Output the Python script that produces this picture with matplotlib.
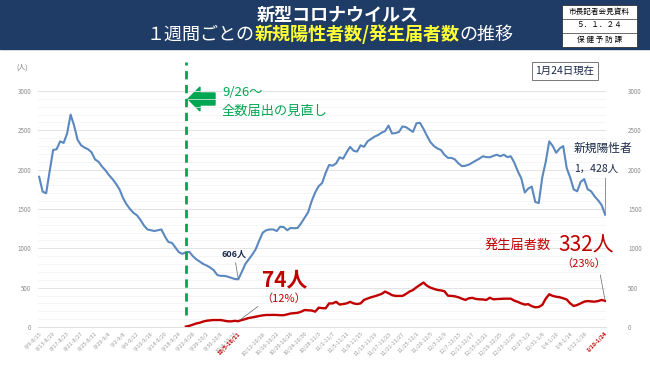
import numpy as np
import pandas as pd
import matplotlib
matplotlib.use("Agg")
import matplotlib.pyplot as plt
from matplotlib.patches import Rectangle, Polygon
from matplotlib.offsetbox import TextArea, HPacker, AnchoredOffsetbox

plt.rcParams['font.family'] = ['Noto Sans CJK JP', 'DejaVu Sans']

# --- data (weekly rolling totals, window end date 2022-08-15 .. 2023-01-24)
start_day = "2022-08-15"

new_cases = [
    1910, 1720, 1700, 1980, 2250, 2260, 2360, 2340, 2460, 2700,
    2560, 2380, 2310, 2280, 2260, 2220, 2130, 2100, 2040, 1990,
    1930, 1880, 1820, 1750, 1640, 1560, 1500, 1450, 1420, 1360,
    1290, 1240, 1230, 1220, 1230, 1240, 1150, 1080, 1070, 1010,
    950, 930, 950, 955, 900, 860, 830, 800, 780, 755,
    720, 660, 650, 650, 640, 625, 610, 606, 700, 800,
    860, 920, 990, 1100, 1200, 1230, 1240, 1240, 1220, 1275,
    1270, 1230, 1260, 1255, 1260, 1320, 1390, 1460, 1600, 1710,
    1790, 1830, 1960, 2060, 2050, 2080, 2157, 2140, 2220, 2290,
    2240, 2230, 2310, 2290, 2360, 2390, 2420, 2440, 2470, 2490,
    2560, 2460, 2465, 2480, 2550, 2540, 2510, 2480, 2590, 2595,
    2520, 2430, 2350, 2300, 2270, 2250, 2190, 2150, 2150, 2130,
    2080, 2045, 2050, 2064, 2090, 2115, 2140, 2170, 2160, 2157,
    2175, 2190, 2170, 2190, 2160, 2170, 2090, 1980, 1890, 1710,
    1760, 1785, 1590, 1575, 1900, 2100, 2360, 2300, 2215, 2270,
    2300, 2020, 1900, 1750, 1725, 1845, 1880, 1750, 1725, 1660,
    1610, 1550, 1428,
]

# 発生届 (from 9/26 onwards)
report_start = "2022-09-26"
reports = [
    5, 15, 30, 45, 55, 70, 80, 85, 89, 88,
    89, 80, 72, 72, 78, 74, 89, 100, 115, 122,
    131, 140, 148, 153, 153, 154, 153, 150, 150, 160,
    172, 176, 180, 195, 216, 212, 210, 195, 245, 240,
    238, 300, 300, 320, 285, 292, 300, 320, 300, 292,
    300, 345, 362, 378, 390, 405, 420, 450, 430, 405,
    395, 395, 395, 420, 450, 470, 505, 535, 565, 525,
    500, 485, 471, 465, 455, 398, 395, 390, 378, 360,
    344, 365, 370, 357, 352, 350, 344, 372, 352, 355,
    357, 360, 360, 360, 335, 320, 300, 285, 290, 265,
    250, 255, 280, 360, 416, 395, 385, 378, 365, 350,
    300, 267, 280, 300, 322, 330, 325, 322, 330, 344,
    332,
]

tick_labels = [
    "8/9-8/15", "8/13-8/19", "8/17-8/23", "8/21-8/27", "8/25-8/31",
    "8/29-9/4", "9/2-9/8", "9/6-9/12", "9/10-9/16", "9/14-9/20",
    "9/18-9/24", "9/22-9/28", "9/26-10/2", "9/30-10/6", "10/4-10/10",
    "10/5-10/11", "10/12-10/18", "10/16-10/22", "10/20-10/26", "10/24-10/30",
    "10/28-11/3", "11/1-11/7", "11/5-11/11", "11/9-11/15", "11/13-11/19",
    "11/17-11/23", "11/21-11/27", "11/25-12/1", "11/29-12/5", "12/3-12/9",
    "12/7-12/13", "12/11-12/17", "12/15-12/21", "12/19-12/25", "12/23-12/29",
    "12/27-1/2", "12/31-1/6", "1/4-1/10", "1/8-1/14", "1/12-1/18",
    "1/18-1/24",
]
red_ticks = ["10/5-10/11", "1/18-1/24"]

days = pd.date_range(start_day, periods=len(new_cases))
rdays = pd.date_range(report_start, periods=len(reports))


def tick_date(lbl):
    m, d = lbl.split("-")[1].split("/")
    year = 2023 if int(m) < 8 else 2022
    return pd.Timestamp(year, int(m), int(d))


tick_pos = [tick_date(t) for t in tick_labels]

W, H = 650, 365
fig = plt.figure(figsize=(6.5, 3.65), dpi=100)
fig.patch.set_facecolor("white")

navy = "#1f3c66"
blue = "#5b88bf"
red = "#c00000"
green = "#00a651"
ink = "#1a2a48"

# header band
fig.patches.append(Rectangle((0, 1 - 49 / H), 1, 49 / H, transform=fig.transFigure,
                             color=navy, zorder=0))
fig.text(338 / W, 1 - 15 / H, "新型コロナウイルス", color="white", fontsize=13,
         ha="center", va="center", fontweight="bold")
parts = [("１週間ごとの", "white", "normal"), ("新規陽性者数/発生届者数", "#ffff33", "bold"),
         ("の推移", "white", "normal")]
pack = HPacker(children=[TextArea(s, textprops=dict(color=c, fontsize=13, fontweight=w))
                         for s, c, w in parts], sep=0, pad=0, align="baseline")
fig.add_artist(AnchoredOffsetbox(loc="center", child=pack, frameon=False, pad=0, borderpad=0,
                                 bbox_to_anchor=(330 / W, 1 - 34 / H),
                                 bbox_transform=fig.transFigure))

# small box on the right of the header
bx0, bx1, by0, by1 = 562 / W, 637 / W, 1 - 47 / H, 1 - 5 / H
fig.patches.append(Rectangle((bx0, by0), bx1 - bx0, by1 - by0, transform=fig.transFigure,
                             facecolor="white", edgecolor="#333333", lw=0.6, zorder=1))
rh = (by1 - by0) / 3
for k in (1, 2):
    fig.add_artist(plt.Line2D([bx0, bx1], [by0 + k * rh] * 2, transform=fig.transFigure,
                              color="#333333", lw=0.5))
for k, s in enumerate(["市長記者会見資料", "５．１．２４", "保 健 予 防 課"]):
    fig.text((bx0 + bx1) / 2, by1 - (k + 0.5) * rh, s, fontsize=5.5, ha="center",
             va="center", color="black")

# main axes
ax = fig.add_axes([38 / W, 1 - 327 / H, (606 - 38) / W, (327 - 91) / H])
ax.plot(days, new_cases, color=blue, lw=1.5, zorder=3)
ax.plot(rdays, reports, color=red, lw=1.7, zorder=3)
ax.set_ylim(0, 3000)
ax.set_xlim(days[0] - pd.Timedelta(hours=8), days[-1] + pd.Timedelta(hours=6))
ax.set_yticks(np.arange(0, 3001, 500))
ax.set_yticks(np.arange(0, 3001, 100), minor=True)
ax.grid(which="major", axis="y", color="#e3e3e3", lw=0.7)
ax.grid(which="minor", axis="y", color="#f2f2f2", lw=0.5)
ax.tick_params(axis="y", which="both", length=0, labelsize=4.5, labelcolor="#8a8a8a", pad=5)
for s in ("top", "right", "left"):
    ax.spines[s].set_visible(False)
ax.spines["bottom"].set_color("#e0e0e0")
ax.spines["bottom"].set_linewidth(0.7)
ax.set_xticks(tick_pos)
ax.set_xticklabels(tick_labels, rotation=45, ha="right", rotation_mode="anchor")
ax.tick_params(axis="x", length=0, labelsize=4, labelcolor="#9a9a9a", pad=3)
for lbl in ax.get_xticklabels():
    if lbl.get_text() in red_ticks:
        lbl.set_color(red)
        lbl.set_fontweight("bold")

ax2 = ax.twinx()
ax2.set_ylim(0, 3000)
ax2.set_yticks(np.arange(0, 3001, 500))
ax2.tick_params(axis="y", length=0, labelsize=4.5, labelcolor="#8a8a8a", pad=16)
for s in ax2.spines.values():
    s.set_visible(False)

fig.text(22 / W, 1 - 68 / H, "(人)", fontsize=5, color="#777777", ha="center", va="center")

# 9/26 change line
cut = pd.Timestamp(report_start)
ax.plot([cut, cut], [150, 3370], color=green, lw=2, ls=(0, (3, 2)), clip_on=False, zorder=4)
ax.add_patch(Polygon([(188 / W, 1 - 99 / H), (200 / W, 1 - 87 / H), (200 / W, 1 - 93 / H),
                      (215 / W, 1 - 93 / H), (215 / W, 1 - 105 / H), (200 / W, 1 - 105 / H),
                      (200 / W, 1 - 111 / H)], closed=True, transform=fig.transFigure,
                     color=green, clip_on=False))
fig.text(222 / W, 1 - 93 / H, "9/26～", color=green, fontsize=9.5, va="center")
fig.text(222 / W, 1 - 111 / H, "全数届出の見直し", color=green, fontsize=9.5, va="center")

# date box
fig.text(565 / W, 1 - 71 / H, "1月24日現在", fontsize=7.5, color=ink, ha="center",
         va="center", bbox=dict(boxstyle="square,pad=0.35", fc="white", ec="#777777", lw=0.7))

# annotations
imin = int(np.argmin(new_cases[30:80])) + 30
ax.annotate(f"{new_cases[imin]}人", xy=(days[imin], new_cases[imin]), xytext=(-3, 15),
            textcoords="offset points", ha="center", va="bottom", fontsize=6.5,
            color=ink, fontweight="bold",
            arrowprops=dict(arrowstyle="-", color="#666666", lw=0.5, shrinkA=1, shrinkB=1))
i74 = rdays.get_loc(days[imin])
pct74 = round(reports[i74] / new_cases[imin] * 100)
ax.text(days[imin] + pd.Timedelta(days=13.2), 600, f"{reports[i74]}人", color=red, fontsize=15,
        fontweight="bold", ha="center", va="center")
ax.annotate(f"（{pct74}%）", xy=(days[imin], reports[i74]), xytext=(33, 16.5),
            textcoords="offset points", ha="center", va="center", fontsize=8, color=red,
            arrowprops=dict(arrowstyle="-", color="#666666", lw=0.5, shrinkA=1, shrinkB=1,
                            relpos=(0.0, 0.0)))

last = len(new_cases) - 1
ax.text(days[last] - pd.Timedelta(days=0.5), 2270, "新規陽性者", color=ink, fontsize=8.5,
        ha="center", va="center")
ax.annotate(f"{new_cases[last]:,}人".replace(",", "，"), xy=(days[last], new_cases[last]),
            xytext=(-6.5, 33), textcoords="offset points", ha="center", va="center",
            fontsize=7.5, color=ink,
            arrowprops=dict(arrowstyle="-", color="#666666", lw=0.5, shrinkA=1, shrinkB=1,
                            relpos=(0.72, 0.0)))
pct = round(reports[-1] / new_cases[last] * 100)
ax.text(days[last] - pd.Timedelta(days=25), 1040, "発生届者数", color=red, fontsize=9.5,
        ha="center", va="center")
ax.text(days[last] - pd.Timedelta(days=5.5), 1040, f"{reports[-1]}人", color=red, fontsize=15,
        ha="center", va="center")
ax.annotate(f"（{pct}%）", xy=(days[last], reports[-1]), xytext=(-15.5, 26.5),
            textcoords="offset points", ha="center", va="center", fontsize=8, color=red,
            arrowprops=dict(arrowstyle="-", color="#666666", lw=0.5, shrinkA=2, shrinkB=1,
                            relpos=(0.85, 0.0)))

fig.savefig("out.png", dpi=100)
